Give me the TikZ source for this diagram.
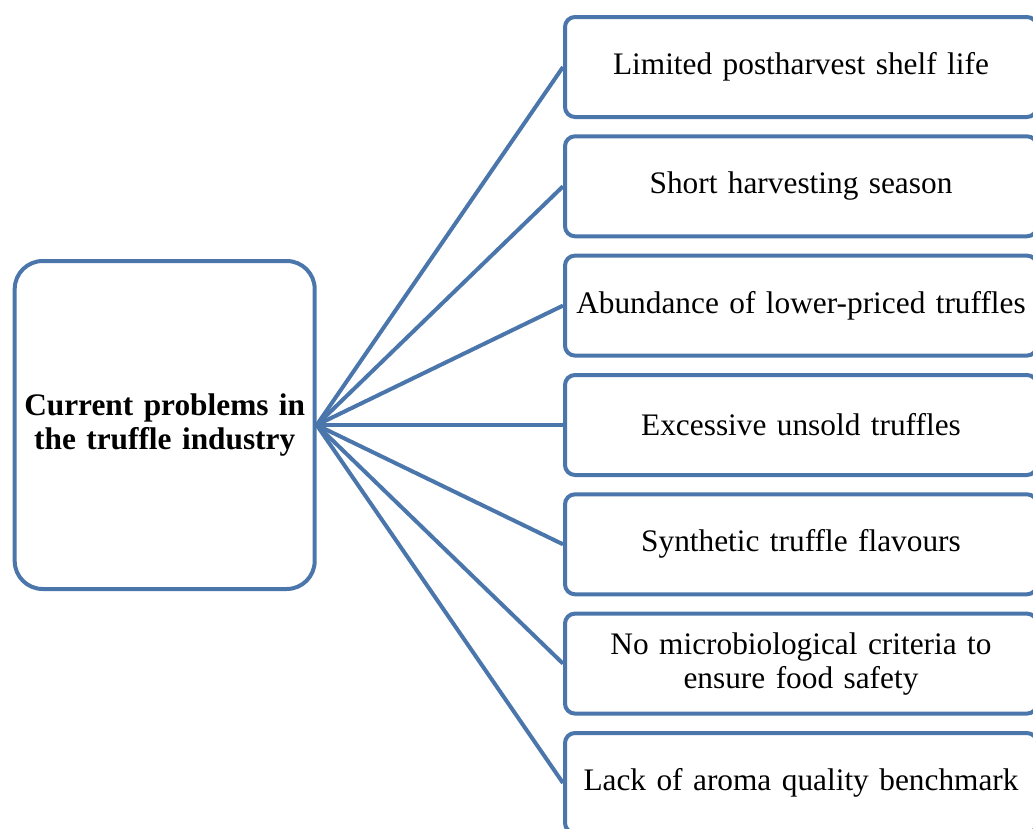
\documentclass[tikz,border=0pt]{standalone}
\usepackage{fontspec}
\setmainfont{Liberation Serif}
\definecolor{boxblue}{HTML}{4A76AC}
\begin{document}
\begin{tikzpicture}[x=0.75pt,y=-0.75pt,
 probbox/.style={draw=boxblue, fill=white, line width=3pt, rounded corners=7.5pt, minimum width=354pt, minimum height=75pt, text width=345pt, align=center, font=\fontsize{23.5}{25.5}\selectfont, inner sep=0pt},
 mainbox/.style={draw=boxblue, fill=white, line width=3pt, rounded corners=21pt, minimum width=225pt, minimum height=246pt, text width=220pt, align=center, font=\fontsize{23.5}{26}\selectfont\bfseries, inner sep=0pt},
 link/.style={draw=boxblue, line width=3pt}]
\useasboundingbox (0,0) rectangle (1033,829);
\clip (0,0) rectangle (1033,829);
\node[mainbox] (main) at (164.7,425) {Current problems in\\the truffle industry};
\node[probbox] (p1) at (801,67) {Limited postharvest shelf life};
\node[probbox] (p2) at (801,186.3) {Short harvesting season};
\node[probbox] (p3) at (801,305.6) {Abundance of lower-priced truffles};
\node[probbox] (p4) at (801,425) {Excessive unsold truffles};
\node[probbox] (p5) at (801,544.3) {Synthetic truffle flavours};
\node[probbox] (p6) at (801,663.6) {No microbiological criteria to\\ensure food safety};
\node[probbox] (p7) at (801,783) {Lack of aroma quality benchmark};
\foreach \i in {1,...,7} {
  \draw[link] (main.east) -- (p\i.west);
}
\end{tikzpicture}
\end{document}
